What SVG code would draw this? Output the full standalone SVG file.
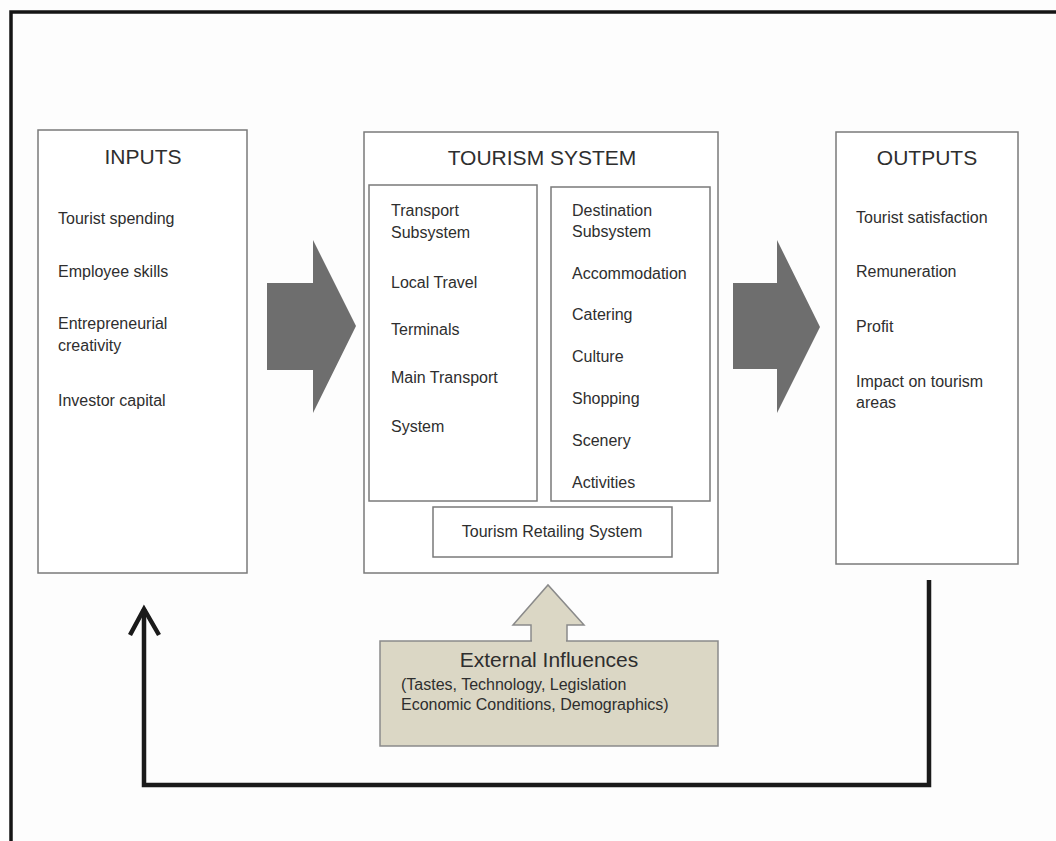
<svg xmlns="http://www.w3.org/2000/svg" width="1056" height="841" viewBox="0 0 1056 841">
  <defs>
    <style>
      .box { fill: #ffffff; stroke: #7a7a7a; stroke-width: 1.5; }
      .ext { fill: #dbd7c5; stroke: #8a8a8a; stroke-width: 1.5; }
      .big { fill: #6e6e6e; }
      .title { font-family: "Liberation Sans", Arial, sans-serif; font-size: 21px; fill: #2e2e2e; }
      .item { font-family: "Liberation Sans", Arial, sans-serif; font-size: 16px; fill: #2e2e2e; }
      .flow { fill: none; stroke: #1a1a1a; stroke-width: 4.5; stroke-linejoin: miter; }
    </style>
  </defs>

  <rect x="0" y="0" width="1056" height="841" fill="#fdfdfd"/>

  <!-- page frame (open to the right and bottom) -->
  <path d="M 11 841 L 11 12 L 1056 12" fill="none" stroke="#151515" stroke-width="3.5"/>

  <!-- inputs -->
  <g id="inputs">
    <rect class="box" x="38" y="130" width="209" height="443"/>
    <text class="title" x="143" y="164" text-anchor="middle">INPUTS</text>
    <text class="item" x="58" y="224">Tourist spending</text>
    <text class="item" x="58" y="277">Employee skills</text>
    <text class="item" x="58" y="329">Entrepreneurial</text>
    <text class="item" x="58" y="351">creativity</text>
    <text class="item" x="58" y="406">Investor capital</text>
  </g>

  <!-- tourism system -->
  <g id="tourism-system">
    <rect class="box" x="364" y="132" width="354" height="441"/>
    <text class="title" x="542" y="165" text-anchor="middle">TOURISM SYSTEM</text>
  </g>

  <g id="transport-subsystem">
    <rect class="box" x="369" y="185" width="168" height="316"/>
    <text class="item" x="391" y="216">Transport</text>
    <text class="item" x="391" y="238">Subsystem</text>
    <text class="item" x="391" y="288">Local Travel</text>
    <text class="item" x="391" y="335">Terminals</text>
    <text class="item" x="391" y="383">Main Transport</text>
    <text class="item" x="391" y="432">System</text>
  </g>

  <g id="destination-subsystem">
    <rect class="box" x="551" y="187" width="159" height="314"/>
    <text class="item" x="572" y="216">Destination</text>
    <text class="item" x="572" y="237">Subsystem</text>
    <text class="item" x="572" y="279">Accommodation</text>
    <text class="item" x="572" y="320">Catering</text>
    <text class="item" x="572" y="362">Culture</text>
    <text class="item" x="572" y="404">Shopping</text>
    <text class="item" x="572" y="446">Scenery</text>
    <text class="item" x="572" y="488">Activities</text>
  </g>

  <g id="retailing-system">
    <rect class="box" x="433" y="507" width="239" height="50"/>
    <text class="item" x="552" y="537" text-anchor="middle">Tourism Retailing System</text>
  </g>

  <!-- outputs -->
  <g id="outputs">
    <rect class="box" x="836" y="132" width="182" height="432"/>
    <text class="title" x="927" y="165" text-anchor="middle">OUTPUTS</text>
    <text class="item" x="856" y="223">Tourist satisfaction</text>
    <text class="item" x="856" y="277">Remuneration</text>
    <text class="item" x="856" y="332">Profit</text>
    <text class="item" x="856" y="387">Impact on tourism</text>
    <text class="item" x="856" y="408">areas</text>
  </g>

  <!-- external influences -->
  <g id="external-influences">
    <polygon class="ext" points="531,641 531,625 513,625 548,585 584,625 567,625 567,641"/>
    <rect class="ext" x="380" y="641" width="338" height="105"/>
    <rect x="532" y="638" width="34" height="5" fill="#dbd7c5"/>
    <text class="title" x="549" y="667" text-anchor="middle">External Influences</text>
    <text class="item" x="401" y="690">(Tastes, Technology, Legislation</text>
    <text class="item" x="401" y="710">Economic Conditions, Demographics)</text>
  </g>

  <!-- connectors -->
  <g id="connectors">
    <polygon class="big" points="267,283 313,283 313,240 356,326 313,413 313,370 267,370"/>
    <polygon class="big" points="733,283 777,283 777,240 820,327 777,413 777,369 733,369"/>
    <path class="flow" d="M 929 580 L 929 785 L 144 785 L 144 609"/>
    <path class="flow" d="M 130 635 L 144 609 L 159 635" stroke-linejoin="miter"/>
  </g>
</svg>
